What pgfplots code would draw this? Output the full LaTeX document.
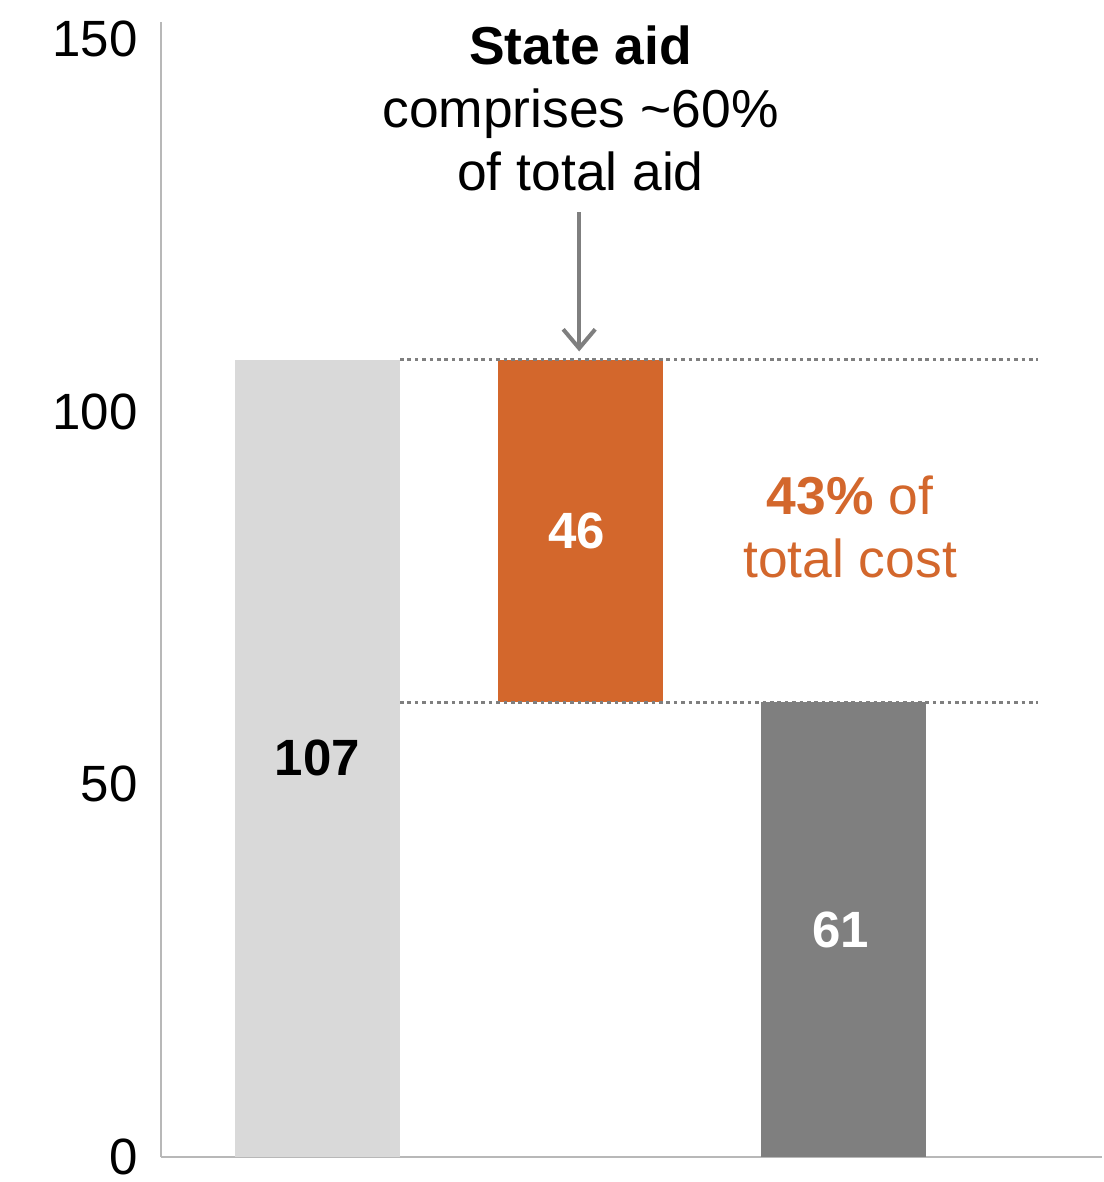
\documentclass[border=0pt]{standalone}
\usepackage{pgfplots}
\pgfplotsset{compat=1.18}
\usepackage{fontspec}
\setmainfont{Liberation Sans}
\usetikzlibrary{arrows.meta}
\definecolor{lgray}{HTML}{D9D9D9}
\definecolor{dgray}{HTML}{7F7F7F}
\definecolor{myorange}{HTML}{D3672C}
\definecolor{axgray}{HTML}{B8B8B8}
\newcommand{\bigfont}{\fontsize{25.5}{31}\selectfont}
\newcommand{\annfont}{\fontsize{26.7}{32}\selectfont}
\begin{document}
\begin{tikzpicture}
\begin{axis}[
  scale only axis,
  width=470.5pt, height=567.5pt,
  xmin=-0.595, xmax=2.983,
  ymin=0, ymax=152.3,
  axis x line*=bottom, axis y line*=left,
  axis line style={axgray, line width=1.2pt},
  xtick=\empty,
  ytick={0,50,100,150},
  major tick length=0pt,
  /pgf/number format/assume math mode=true,
  yticklabel style={font=\bigfont, anchor=east, inner sep=0pt, xshift=-11.5pt},
  ybar stacked, bar width=82.5pt,
  clip=false,
]
\addplot[fill=lgray, draw=none] coordinates {(0,107) (1,0) (2,0)};
\addplot[fill=none, draw=none] coordinates {(0,0) (1,61) (2,0)};
\addplot[fill=myorange, draw=none] coordinates {(0,0) (1,46) (2,0)};
\addplot[fill=dgray, draw=none] coordinates {(0,0) (1,0) (2,61)};

\coordinate (dA1) at (axis cs:0.3137,107);
\coordinate (dA2) at (axis cs:2.74,107);
\coordinate (dB1) at (axis cs:0.3137,61);
\coordinate (dB2) at (axis cs:2.74,61);
\coordinate (l107) at (axis cs:0,53.5);
\coordinate (l46) at (axis cs:0.985,84);
\coordinate (l61) at (axis cs:1.99,30.5);
\coordinate (t1) at (axis cs:1,146.65);
\coordinate (t2) at (axis cs:1,138.2);
\coordinate (t3) at (axis cs:1,129.75);
\coordinate (a1) at (axis cs:0.995,126.8);
\coordinate (a2) at (axis cs:0.995,108.1);
\coordinate (r1) at (axis cs:2.025,86.2);
\coordinate (r2) at (axis cs:2.025,77.7);

% bounding box
\path (rel axis cs:-0.1711,-0.0220) rectangle (rel axis cs:1,1.0194);
\end{axis}

% dotted connector lines
\draw[dgray, line width=1.8pt, dash pattern=on 1.8pt off 1.9pt] (dA1) -- (dA2);
\draw[dgray, line width=1.8pt, dash pattern=on 1.8pt off 1.9pt] (dB1) -- (dB2);

% bar labels
\node[font=\bigfont\bfseries, text=black] at (l107) {107};
\node[font=\bigfont\bfseries, text=white] at (l46) {46};
\node[font=\bigfont\bfseries, text=white] at (l61) {61};

% top annotation
\node[font=\annfont\bfseries, anchor=base] at (t1) {State aid};
\node[font=\annfont, anchor=base] at (t2) {comprises \textasciitilde60\%};
\node[font=\annfont, anchor=base] at (t3) {of total aid};
\draw[dgray, line width=2pt, -{Straight Barb[length=9.5pt, width=16pt, line width=2pt]}] (a1) -- (a2);

% right annotation
\node[font=\annfont, text=myorange, anchor=base] at (r1) {\textbf{43\%} of};
\node[font=\annfont, text=myorange, anchor=base] at (r2) {total cost};
\end{tikzpicture}
\end{document}
